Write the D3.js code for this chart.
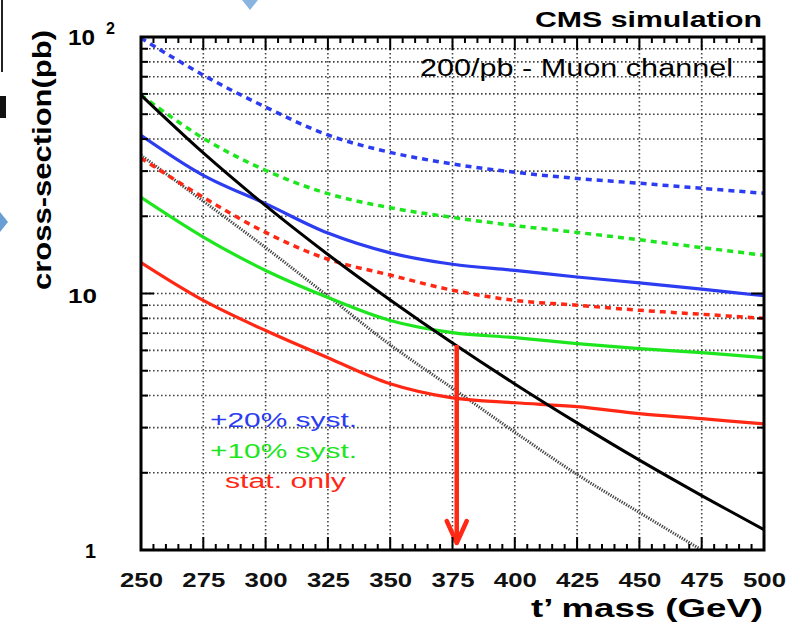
<!DOCTYPE html>
<html>
<head>
<meta charset="utf-8">
<script src="https://cdn.jsdelivr.net/npm/d3@7"></script>
<style>
  body { margin: 0; background: #fff; }
  svg { display: block; font-family: "Liberation Sans", Arial, sans-serif; }
</style>
</head>
<body>
<svg id="chart" width="800" height="624"></svg>
<script>
// ----------------- DATA -----------------
var masses = [250, 275, 300, 325, 350, 375, 400, 425, 450, 475, 500];

// theory cross-section (solid black) and lower band (thin dotted)
var theory      = [59.3, 35.3, 22.0, 14.2, 9.44, 6.41, 4.44, 3.13, 2.24, 1.63, 1.20];
var theoryLow   = [34.6, 22.9, 15.1, 9.77, 6.31, 4.27, 2.88, 1.97, 1.40, 1.0, 0.72];

// expected limits (dashed)
var syst20Exp   = [99, 71, 53.3, 41.5, 35.5, 32.0, 29.7, 28.1, 26.9, 25.7, 24.6];
var syst10Exp   = [59.3, 40.3, 30.2, 24.5, 21.6, 19.8, 18.4, 17.3, 16.2, 15.1, 14.1];
var statExp     = [33.7, 23.7, 17.3, 13.6, 11.8, 10.3, 9.4, 9.0, 8.6, 8.3, 8.0];

// observed limits (solid)
var syst20Obs   = [41.4, 28.9, 22.4, 17.2, 14.4, 13.0, 12.3, 11.6, 11.0, 10.4, 9.8];
var syst10Obs   = [23.7, 16.6, 12.3, 9.65, 7.85, 7.04, 6.73, 6.38, 6.1, 5.88, 5.62];
var statObs     = [13.2, 9.4, 7.17, 5.62, 4.45, 3.92, 3.75, 3.62, 3.4, 3.25, 3.1];

var xTicks = [250, 275, 300, 325, 350, 375, 400, 425, 450, 475, 500];
var legendLabels = ["+20% syst.", "+10% syst.", "stat. only"];
var arrowMass = 376.7, arrowFrom = 6.3, arrowTo = 1.065;

// ----------------- SETUP -----------------
var svg = d3.select("#chart");
var W = 800, H = 624;
var margin = {left: 141, right: 36, top: 37, bottom: 74};

var x = d3.scaleLinear().domain([250, 500]).range([margin.left, W - margin.right]);
var y = d3.scaleLog().domain([1, 100]).range([H - margin.bottom, margin.top]);

var blue = "#2c3cf0", green = "#1ee61e", red = "#ff2814";

// leftovers of the slide around the picture
svg.append("rect").attr("x", 1).attr("y", 0).attr("width", 2).attr("height", 72).attr("fill", "#222");
svg.append("rect").attr("x", 0).attr("y", 96).attr("width", 6).attr("height", 22).attr("fill", "#111");
svg.append("path").attr("d", "M0,212 L8,222 L0,232 Z").attr("fill", "#6a9fd4");
svg.append("path").attr("d", "M242,0 L258,0 L250,10 Z").attr("fill", "#8ab4e0");

var plot = svg.append("g");
plot.append("defs").append("clipPath").attr("id", "clip")
  .append("rect").attr("x", x(250)).attr("y", y(100)).attr("width", x(500) - x(250)).attr("height", y(1) - y(100));

// ----------------- GRID -----------------
var yGrid = [];
[1, 10].forEach(function(d) { for (var k = 2; k <= 9; k++) yGrid.push(d * k); });
var gridStyle = function(sel) {
  sel.attr("stroke", "#444").attr("stroke-width", 1.6).attr("stroke-dasharray", "1.6,2.4");
};

plot.append("g").selectAll("line").data(yGrid.concat([10])).join("line")
  .attr("x1", x(250)).attr("x2", x(500))
  .attr("y1", function(d) { return y(d); }).attr("y2", function(d) { return y(d); })
  .call(gridStyle);

plot.append("g").selectAll("line").data(xTicks.slice(1, -1)).join("line")
  .attr("x1", function(d) { return x(d); }).attr("x2", function(d) { return x(d); })
  .attr("y1", y(100)).attr("y2", y(1))
  .call(gridStyle);

// ----------------- CURVES -----------------
var line = d3.line()
  .x(function(d, i) { return x(masses[i]); })
  .y(function(d) { return y(d); })
  .curve(d3.curveCatmullRom.alpha(0.5));

var curves = plot.append("g").attr("clip-path", "url(#clip)");

function drawCurve(vals, color, width, dash) {
  curves.append("path").datum(vals)
    .attr("d", line)
    .attr("fill", "none")
    .attr("stroke", color)
    .attr("stroke-width", width)
    .attr("stroke-dasharray", dash);
}

drawCurve(theoryLow, "#444", 3, "1.3,1.3");
drawCurve(syst20Exp, blue, 3.5, "6,5");
drawCurve(syst10Exp, green, 3.5, "6,5");
drawCurve(statExp, red, 3.5, "6,5");
drawCurve(syst20Obs, blue, 3.2, null);
drawCurve(syst10Obs, green, 3.2, null);
drawCurve(statObs, red, 3.2, null);
drawCurve(theory, "#000", 3, null);

// ----------------- ARROW -----------------
plot.append("line")
  .attr("x1", x(arrowMass)).attr("x2", x(arrowMass))
  .attr("y1", y(arrowFrom)).attr("y2", y(arrowTo) - 3)
  .attr("stroke", red).attr("stroke-width", 4.5);
plot.append("path")
  .attr("d", "M" + (x(arrowMass) - 10) + "," + (y(arrowTo) - 22) +
             " L" + x(arrowMass) + "," + y(arrowTo) +
             " L" + (x(arrowMass) + 10) + "," + (y(arrowTo) - 22))
  .attr("fill", "none").attr("stroke", red).attr("stroke-width", 4.5)
  .attr("stroke-linecap", "round").attr("stroke-linejoin", "round");

// ----------------- FRAME & TICKS -----------------
var x0 = x(250), x1 = x(500), y0 = y(1), y1 = y(100);
plot.append("rect")
  .attr("x", x0).attr("y", y1).attr("width", x1 - x0).attr("height", y0 - y1)
  .attr("fill", "none").attr("stroke", "#000").attr("stroke-width", 3);

var xMinor = d3.range(255, 500, 5).filter(function(d) { return d % 25 !== 0; });
var ticks = plot.append("g").attr("stroke", "#000").attr("stroke-width", 2);

xTicks.forEach(function(d) {
  ticks.append("line").attr("x1", x(d)).attr("x2", x(d)).attr("y1", y0).attr("y2", y0 - 13);
  ticks.append("line").attr("x1", x(d)).attr("x2", x(d)).attr("y1", y1).attr("y2", y1 + 13);
});
xMinor.forEach(function(d) {
  ticks.append("line").attr("x1", x(d)).attr("x2", x(d)).attr("y1", y0).attr("y2", y0 - 6);
  ticks.append("line").attr("x1", x(d)).attr("x2", x(d)).attr("y1", y1).attr("y2", y1 + 6);
});
yGrid.concat([10]).forEach(function(d) {
  var len = d === 10 ? 13 : 7;
  ticks.append("line").attr("x1", x0).attr("x2", x0 + len).attr("y1", y(d)).attr("y2", y(d));
  ticks.append("line").attr("x1", x1).attr("x2", x1 - len).attr("y1", y(d)).attr("y2", y(d));
});

// ----------------- AXIS LABELS -----------------
svg.append("g").selectAll("text").data(xTicks).join("text")
  .attr("x", function(d) { return x(d) - 21; })
  .attr("y", 587)
  .attr("font-size", 21).attr("font-weight", "bold").attr("fill", "#111")
  .attr("textLength", 43).attr("lengthAdjust", "spacingAndGlyphs")
  .text(function(d) { return d; });

svg.append("text").attr("x", 85).attr("y", 558)
  .attr("font-size", 21).attr("font-weight", "bold")
  .attr("textLength", 11).attr("lengthAdjust", "spacingAndGlyphs").text("1");
svg.append("text").attr("x", 68).attr("y", 303)
  .attr("font-size", 21).attr("font-weight", "bold")
  .attr("textLength", 29).attr("lengthAdjust", "spacingAndGlyphs").text("10");
svg.append("text").attr("x", 68).attr("y", 45)
  .attr("font-size", 22).attr("font-weight", "bold")
  .attr("textLength", 27).attr("lengthAdjust", "spacingAndGlyphs").text("10");
svg.append("text").attr("x", 106).attr("y", 34)
  .attr("font-size", 16).attr("font-weight", "bold").text("2");

svg.append("text")
  .attr("transform", "translate(51,160) rotate(-90)")
  .attr("x", -130)
  .attr("font-size", 26).attr("font-weight", "bold")
  .attr("textLength", 260).attr("lengthAdjust", "spacingAndGlyphs")
  .text("cross-section(pb)");

svg.append("text").attr("x", 531).attr("y", 617)
  .attr("font-size", 26).attr("font-weight", "bold")
  .attr("textLength", 232).attr("lengthAdjust", "spacingAndGlyphs")
  .text("t\u2019 mass (GeV)");

svg.append("text").attr("x", 535).attr("y", 27)
  .attr("font-size", 22).attr("font-weight", "bold")
  .attr("textLength", 227).attr("lengthAdjust", "spacingAndGlyphs")
  .text("CMS simulation");

svg.append("text").attr("x", 420).attr("y", 76)
  .attr("font-size", 23)
  .attr("textLength", 313).attr("lengthAdjust", "spacingAndGlyphs")
  .text("200/pb - Muon channel");

// ----------------- LEGEND -----------------
var legendColors = [blue, green, red];
var legendX = [210, 210, 225];
var legendY = [427, 458, 488];
var legendW = [147, 147, 121];
svg.append("g").selectAll("text").data(legendLabels).join("text")
  .attr("x", function(d, i) { return legendX[i]; })
  .attr("y", function(d, i) { return legendY[i]; })
  .attr("font-size", 20)
  .attr("textLength", function(d, i) { return legendW[i]; })
  .attr("lengthAdjust", "spacingAndGlyphs")
  .attr("fill", function(d, i) { return legendColors[i]; })
  .text(function(d) { return d; });
</script>
</body>
</html>
